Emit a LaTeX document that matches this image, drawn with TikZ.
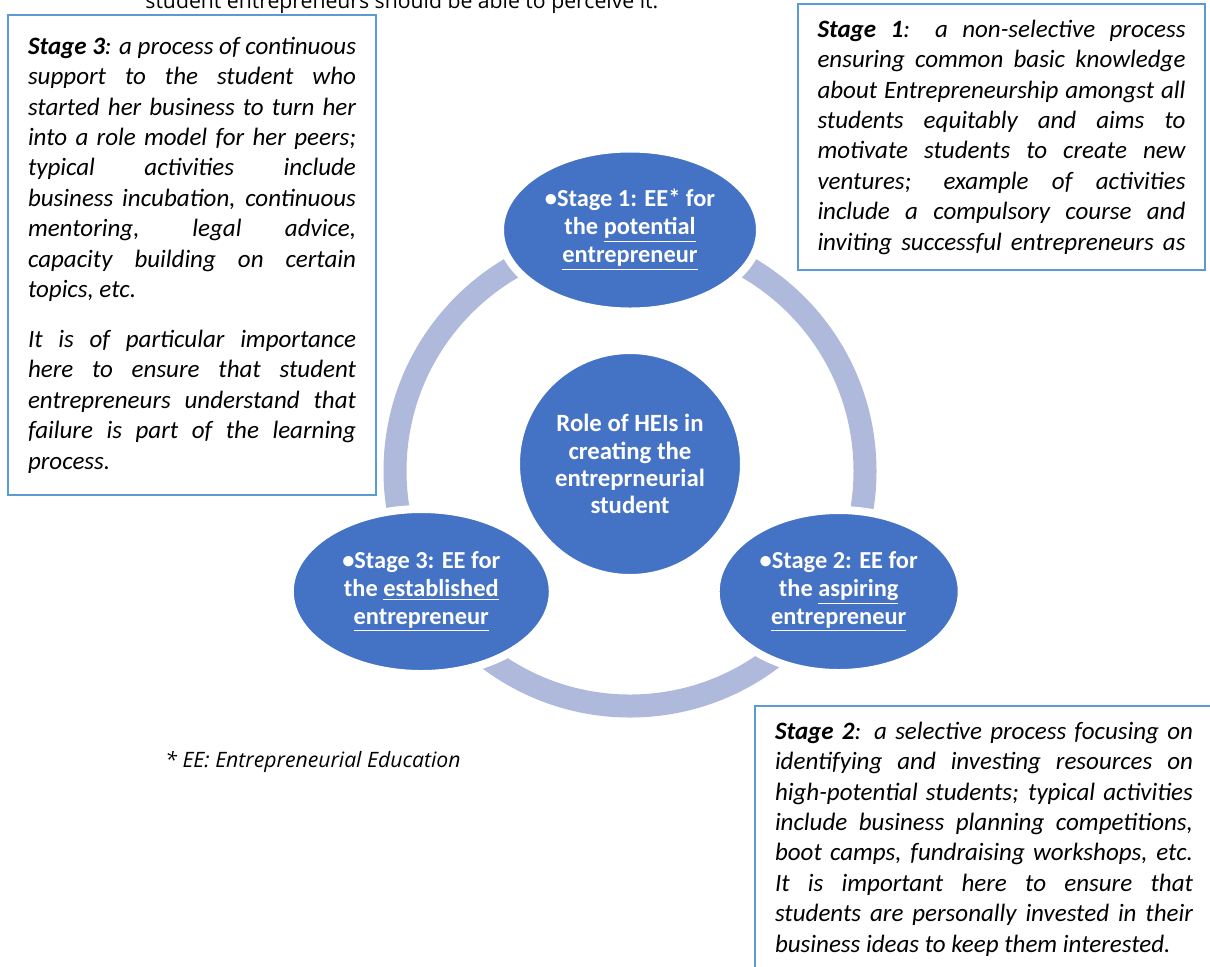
\documentclass[tikz,border=0pt]{standalone}
\usepackage{fontspec}
\setmainfont{Carlito}
\newfontfamily\leadfont{Open Sans}
\usetikzlibrary{shapes.geometric}
\definecolor{heiBlue}{RGB}{68,114,196}
\definecolor{heiRing}{RGB}{174,185,219}
\definecolor{heiFrame}{RGB}{91,155,213}
\newcommand\notesetup{\hyphenpenalty=10000 \exhyphenpenalty=10000 \tolerance=9999 \relax}

\begin{document}
\begin{tikzpicture}[
  x=0.5pt,y=-0.5pt,
  stage/.style={
    ellipse,
    fill=heiBlue,
    draw=white,
    line width=4pt,
    inner sep=0pt,
    align=center,
    text=white,
    font=\fontsize{12.2}{14}\selectfont\bfseries
  },
  hub/.style={
    stage,
    circle,
    minimum size=114pt,
    font=\fontsize{12.4}{13.6}\selectfont\bfseries
  },
  ring/.style={heiRing,line width=11.5pt},
  note/.style={
    draw=heiFrame,
    line width=1pt,
    anchor=north west,
    align=justify,
    inner xsep=10pt,
    inner ysep=8pt,
    font=\fontsize{12.5}{15.2}\selectfont\itshape
  },
  lead/.style={
    anchor=base west,
    inner sep=0pt,
    font=\leadfont\fontsize{10.6}{13}\selectfont
  }
]
  \useasboundingbox (0,0) rectangle (1210,966);
  \clip (0,0) rectangle (1210,966);
  \fill[white] (0,0) rectangle (1210,966);

  \node[lead] (intro) at (145,8) {student entrepreneurs should be able to perceive it.};

  \coordinate (cycle) at (630,471);
  \draw[ring] (cycle) circle[radius=117.5pt];
  \node[hub] (hub) at (630,464) {Role of HEIs in\\creating the\\entreprneurial\\student};
  \node[stage,minimum width=130pt,minimum height=81.5pt] (potential) at ([shift={(90:120.5pt)}]cycle)
    {•Stage 1: EE* for\\the \underline{potential}\\\underline{entrepreneur}};
  \node[stage,minimum width=123pt,minimum height=81.5pt] (aspiring) at ([shift={(330:120.5pt)}]cycle)
    {•Stage 2: EE for\\the \underline{aspiring}\\\underline{entrepreneur}};
  \node[stage,minimum width=131.5pt,minimum height=82.5pt] (established) at ([shift={(210:120.5pt)}]cycle)
    {•Stage 3: EE for\\the \underline{established}\\\underline{entrepreneur}};

  \node[note,text width=164pt,inner ysep=11pt] (establishednote) at (7,14) {\notesetup\setlength{\parskip}{9.8pt}%
    \textbf{Stage 3}: a process of continuous\linebreak
    support to the student who\linebreak
    started her business to turn her\linebreak
    into a role model for her peers;\linebreak
    typical activities include\linebreak
    business incubation, continuous\linebreak
    mentoring, legal advice,\linebreak
    capacity building on certain\linebreak
    topics, etc.\par
    It is of particular importance\linebreak
    here to ensure that student\linebreak
    entrepreneurs understand that\linebreak
    failure is part of the learning\linebreak
    process.};
  \node[note,text width=184pt,inner xsep=9.75pt] (potentialnote) at (797,3) {\notesetup
    \textbf{Stage 1}: a non-selective process\linebreak
    ensuring common basic knowledge\linebreak
    about Entrepreneurship amongst all\linebreak
    students equitably and aims to\linebreak
    motivate students to create new\linebreak
    ventures; example of activities\linebreak
    include a compulsory course and\linebreak
    \makebox[\linewidth][s]{inviting successful entrepreneurs as}};
  \node[note,text width=209pt] (aspiringnote) at (754,705) {\notesetup
    \textbf{Stage 2}: a selective process focusing on\linebreak
    identifying and investing resources on\linebreak
    high-potential students; typical activities\linebreak
    include business planning competitions,\linebreak
    boot camps, fundraising workshops, etc.\linebreak
    It is important here to ensure that\linebreak
    students are personally invested in their\linebreak
    business ideas to keep them interested.};

  \node[lead,font=\leadfont\itshape\fontsize{10.6}{13}\selectfont] (footnote) at (165,767) {* EE: Entrepreneurial Education};
\end{tikzpicture}
\end{document}
